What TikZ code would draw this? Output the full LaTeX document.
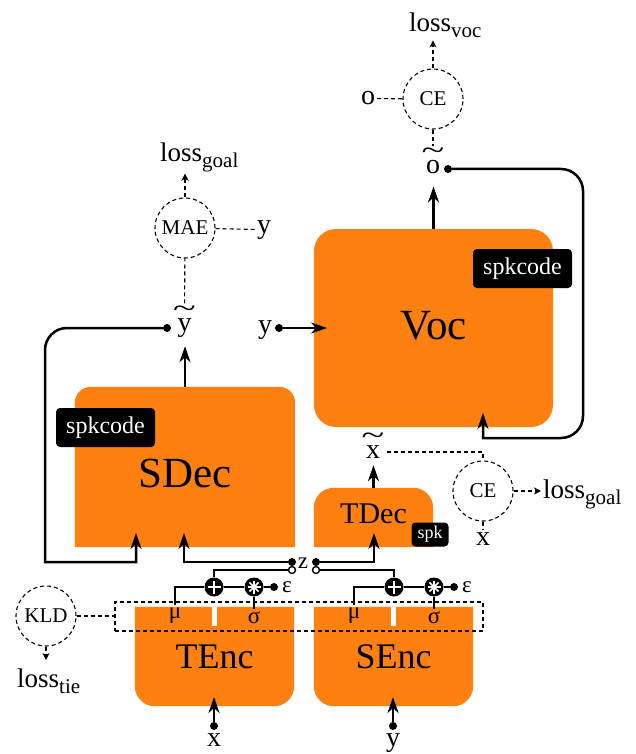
\documentclass[tikz,border=0pt]{standalone}
\usepackage{fontspec}
\usepackage{graphicx}
\setmainfont{Liberation Serif}
\usetikzlibrary{positioning,calc,arrows.meta,backgrounds}

\definecolor{blockorange}{RGB}{253,128,17}
\newcommand\tl[1]{\vbox{\offinterlineskip\halign{\hfil##\hfil\cr\scalebox{1.5}[1]{\char"7E}\cr\noalign{\kern1pt}#1\cr}}}
\newcommand\lossof[1]{loss\raisebox{-6pt}{\fontsize{21}{21}\selectfont #1}}

\begin{document}
\begin{tikzpicture}
		[x=1pt, y=-1pt,
		blk/.style={inner sep=0pt, font=\fontsize{43}{43}\selectfont},
		tag/.style={fill=black, text=white, rounded corners=4pt, inner sep=0pt, font=\fontsize{24}{24}\selectfont},
		lossfn/.style={circle, draw, line width=1.1pt, dash pattern=on 4pt off 3pt, minimum size=60pt, inner sep=0pt, font=\fontsize{21}{21}\selectfont},
		var/.style={inner sep=2pt, anchor=base, font=\fontsize{28}{28}\selectfont},
		sym/.style={inner sep=2pt, anchor=base, font=\fontsize{23}{23}\selectfont},
		lossname/.style={inner sep=2pt, anchor=base west, font=\fontsize{27}{27}\selectfont},
		dot/.style={circle, fill=black, minimum size=8pt, inner sep=0pt},
		odot/.style={circle, draw=black, fill=white, line width=1.4pt, minimum size=7pt, inner sep=0pt},
		op/.style={circle, fill=black, minimum size=19pt, inner sep=0pt},
		conn/.style={line width=2.5pt},
		arr/.style={conn, -{Stealth[length=16pt, width=11pt, inset=5pt]}},
		dsh/.style={line width=1.1pt, dash pattern=on 4pt off 3pt},
		darr/.style={dsh, -{Stealth[length=7pt, width=7pt, inset=2pt]}}]
		\useasboundingbox (0,0) rectangle (636,754);

		\node[blk, minimum width=220pt, minimum height=160pt, text height=41pt] (sdec) at (185,467) {SDec};
		\node[blk, minimum width=239pt, minimum height=198pt, text depth=6pt, fill=blockorange, rounded corners=22pt] (voc) at (433.5,328) {Voc};
		\node[blk, minimum width=119pt, minimum height=59pt, text depth=7pt, font=\fontsize{30}{30}\selectfont] (tdec) at (373.5,517.5) {TDec};
		\node[blk, minimum width=159pt, minimum height=99pt, font=\fontsize{36}{36}\selectfont] (tenc) at (214.5,656.5) {TEnc};
		\node[blk, minimum width=159pt, minimum height=99pt, font=\fontsize{36}{36}\selectfont] (senc) at (393.5,656.5) {SEnc};

		\begin{scope}[on background layer]
			\fill[blockorange] (sdec.south west) [rounded corners=16pt] -- (sdec.north west) -- (sdec.north east) [sharp corners] -- (sdec.south east) -- cycle;
			\fill[blockorange] (tdec.south west) [rounded corners=20pt] -- (tdec.north west) -- (tdec.north east) [sharp corners] -- (tdec.south east) -- cycle;
			\foreach \enc in {tenc,senc} {
				\fill[blockorange] (\enc.north west) [rounded corners=20pt] -- (\enc.south west) -- (\enc.south east) [sharp corners] -- (\enc.north east) -- cycle;
				\fill[white] ($(\enc.north)+(-2.5,0)$) rectangle ($(\enc.north)+(2.5,19)$);
			}
		\end{scope}

		\node[tag, minimum width=99pt, minimum height=39pt] (sdectag) at (105.5,427.5) {spkcode};
		\node[tag, minimum width=99pt, minimum height=39pt] (voctag) at (522.5,268.5) {spkcode};
		\node[tag, minimum width=37pt, minimum height=24pt, font=\fontsize{18}{18}\selectfont] (tdectag) at (430,534.5) {spk};

		\node[draw, dsh, minimum width=368pt, minimum height=29pt, inner sep=0pt] (stats) at (299,616.5) {};
		\node[sym] (tmu) at (175,618) {μ};
		\node[sym] (tsig) at (254,623) {σ};
		\node[sym] (smu) at (354,618) {μ};
		\node[sym] (ssig) at (434,623) {σ};

		\node[op] (tplus) at (214,587) {};
		\node[op] (tstar) at (254,587) {};
		\node[dot] (tepsdot) at (274,587) {};
		\node[sym, anchor=base west] (teps) at (280,592) {ε};
		\node[op] (splus) at (394,587) {};
		\node[op] (sstar) at (434,587) {};
		\node[dot] (sepsdot) at (454,587) {};
		\node[sym, anchor=base west] (seps) at (460,592) {ε};
		\foreach \op in {tplus,splus}
			\draw[white, line width=2.2pt] ($(\op)+(-6.5,0)$) -- ($(\op)+(6.5,0)$) ($(\op)+(0,-6.5)$) -- ($(\op)+(0,6.5)$);
		\foreach \op in {tstar,sstar}
			\foreach \a in {0,45,90,135}
				\draw[white, line width=1.6pt] ($(\op)+(\a:6.5)$) -- ($(\op)+(\a+180:6.5)$);

		\node[sym] (z) at (303,568) {z};
		\node[dot] (zl1) at (292,562) {};
		\node[odot] (zl2) at (292,570) {};
		\node[dot] (zr1) at (316,562) {};
		\node[odot] (zr2) at (316,570) {};

		\coordinate (sdecinA) at (136,533);
		\coordinate (sdecinB) at (184,533);
		\coordinate (tdecin) at (374,533);
		\coordinate (vocinA) at (327,328);
		\coordinate (vocinB) at (483,413);
		\coordinate (tencin) at (214,697);
		\coordinate (sencin) at (393,697);
		\coordinate (loopl) at (45,562);
		\coordinate (loopr) at (583,438);

		\node[dot] (xdot) at (214,726) {};
		\node[var] (xin) at (214,746) {x};
		\node[dot] (ydot) at (393,726) {};
		\node[var] (yin) at (393,746) {y};

		\node[var] (ytl) at (184.5,331) {\tl{y}};
		\node[dot] (ytldot) at (167,328) {};
		\node[var] (xtl) at (373,458) {\tl{x}};
		\node[var] (otl) at (433,174) {\tl{o}};
		\node[dot] (otldot) at (448,169) {};
		\node[var] (yvoc) at (265,333) {y};
		\node[dot] (yvocdot) at (279,328) {};

		\node[lossfn] (mae) at (185,228) {MAE};
		\node[var] (ymae) at (264,233) {y};
		\node[lossname] (lossmae) at (158,161) {\lossof{goal}};
		\node[lossfn] (cevoc) at (433,99) {CE};
		\node[var] (ocevoc) at (368,105) {o};
		\node[lossname] (lossvoc) at (407,32) {\lossof{voc}};
		\node[lossfn] (cetdec) at (483,491) {CE};
		\node[var] (xcetdec) at (483,545) {x};
		\node[lossname] (losstdec) at (541,498) {\lossof{goal}};
		\node[lossfn] (kld) at (46,616) {KLD};
		\node[lossname] (losskld) at (15,687) {\lossof{tie}};

		\draw[conn] (tmu) |- (tplus);
		\draw[conn] (tsig) -- (tstar);
		\draw[conn] (tplus) -- (tstar);
		\draw[conn] (tstar) -- (tepsdot);
		\draw[conn] (smu) |- (splus);
		\draw[conn] (ssig) -- (sstar);
		\draw[conn] (splus) -- (sstar);
		\draw[conn] (sstar) -- (sepsdot);
		\draw[conn] (tplus) |- (zl2);
		\draw[conn] (zr2) -| (splus);
		\draw[arr] (zl1) -| (sdecinB);
		\draw[arr] (zr1) -| (tdecin);
		\draw[arr] (xdot) -- (tencin);
		\draw[arr] (ydot) -- (sencin);
		\draw[arr] (ytldot) [rounded corners=22pt] -- (ytldot -| loopl) [sharp corners] -- (loopl) -| (sdecinA);
		\draw[arr] (yvocdot) -- (vocinA);
		\draw[arr] (otldot) [rounded corners=22pt] -| (loopr) [sharp corners] -| (vocinB);
		\draw[arr, shorten >=7pt] (sdec.north) -- (sdec.north |- ytl.south);
		\draw[arr, shorten >=5pt] (tdec.north) -- (tdec.north |- xtl.south);
		\draw[arr, shorten >=10pt] (voc.north) -- (voc.north |- otl.south);

		\draw[dsh] (ytl) -- (mae);
		\draw[dsh] (mae) -- (ymae);
		\draw[darr] (mae) -- (mae |- lossmae.south);
		\draw[dsh] (ocevoc) -- (cevoc);
		\draw[dsh] (cevoc) -- (otl);
		\draw[darr] (cevoc) -- (cevoc |- lossvoc.south);
		\draw[dsh] ([yshift=6pt]xtl.base east) -| (cetdec);
		\draw[darr] (cetdec) -- (cetdec -| losstdec.west);
		\draw[dsh] (cetdec) -- (xcetdec);
		\draw[dsh] (kld) -- (kld -| stats.west);
		\draw[darr, shorten >=6pt] (kld) -- (kld |- losskld.north);
	\end{tikzpicture}
\end{document}
